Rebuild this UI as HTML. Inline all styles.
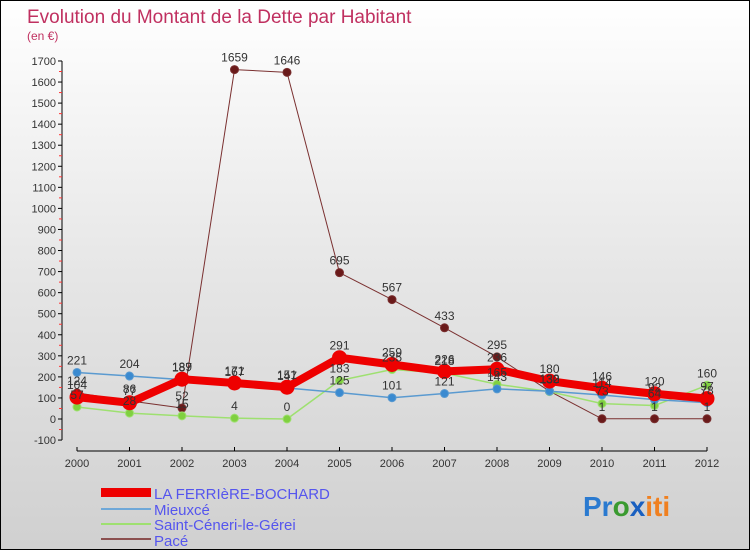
<!DOCTYPE html>
<html><head><meta charset="utf-8"><style>
body{margin:0;}
#wrap{width:748px;height:548px;border:1px solid #000;position:relative;overflow:hidden;background:linear-gradient(#fff 0%,#e6e6e6 50%,#d0d0d0 100%);font-family:"Liberation Sans",sans-serif;}
svg text{font-family:"Liberation Sans",sans-serif;}
</style></head><body>
<div id="wrap">
<svg id="chart" width="748" height="548">
<text x="26" y="22" font-size="19" fill="#c03060">Evolution du Montant de la Dette par Habitant</text>
<text x="26" y="39" font-size="12" fill="#c03060">(en €)</text>
<g id="axes"></g><g id="series"></g><g id="labels"></g>
<g>
<rect x="100" y="487" width="50" height="9" fill="#e00"/>
<text x="153" y="498" font-size="15" fill="#5555ee">LA FERRIèRE-BOCHARD</text>
<line x1="100" y1="508" x2="150" y2="508" stroke="#6fa8d8" stroke-width="2"/>
<text x="153" y="514" font-size="15" fill="#5555ee">Mieuxcé</text>
<line x1="100" y1="523" x2="150" y2="523" stroke="#9ee070" stroke-width="2"/>
<text x="153" y="529" font-size="15" fill="#5555ee">Saint-Céneri-le-Gérei</text>
<line x1="100" y1="538" x2="150" y2="538" stroke="#8b5050" stroke-width="2"/>
<text x="153" y="545" font-size="15" fill="#5555ee">Pacé</text>
</g>
<g font-size="28" font-weight="bold">
<text x="582" y="515"><tspan fill="#2a7ad0">Pr</tspan><tspan fill="#3a9a30">o</tspan><tspan fill="#1a60c0">x</tspan><tspan fill="#f08020">iti</tspan></text>
</g>
</svg>
</div>
<script>
const years=["2000","2001","2002","2003","2004","2005","2006","2007","2008","2009","2010","2011","2012"];
const yTicks=[-100,0,100,200,300,400,500,600,700,800,900,1000,1100,1200,1300,1400,1500,1600,1700];
const ferriere=[104,77,189,171,151,291,259,226,236,180,146,120,97];
const mieuxce=[221,204,187,167,147,125,101,121,143,132,114,92,78];
const ceneri=[57,28,15,4,0,183,235,218,165,130,73,64,160];
const pace=[124,86,52,1659,1646,695,567,433,295,132,1,1,1];
const NS="http://www.w3.org/2000/svg";
function X(i){return 76+i*52.5;}
function Y(v){return 418-v*0.2106;}
function mk(t,a,p){const e=document.createElementNS(NS,t);for(const k in a)e.setAttribute(k,a[k]);p.appendChild(e);return e;}
const ax=document.getElementById('axes');
const yl=mk('line',{x1:61,y1:Y(1700),x2:61,y2:Y(-100),stroke:'#000'},ax);


yTicks.forEach(v=>{
 mk('line',{x1:57,y1:Y(v),x2:61,y2:Y(v),stroke:'#000'},ax);
 if(v<1700)mk('line',{x1:58,y1:Y(v+50),x2:61,y2:Y(v+50),stroke:'#f33'},ax);
 const t=mk('text',{x:55,y:Y(v)+4,'font-size':11,fill:'#333','text-anchor':'end'},ax);t.textContent=v;
 
 
});
const xl=mk('line',{x1:X(0),y1:450,x2:X(12),y2:450,stroke:'#000'},ax);


years.forEach((y,i)=>{
 mk('line',{x1:X(i),y1:446,x2:X(i),y2:450,stroke:'#000'},ax);
 const t=mk('text',{x:X(i),y:466,'font-size':11,fill:'#333','text-anchor':'middle'},ax);t.textContent=y;
 
 
});
const sg=document.getElementById('series'),lg=document.getElementById('labels');
function draw(arr,name,color,w,r,dot){
 const pl=mk('polyline',{points:arr.map((v,i)=>X(i)+','+Y(v)).join(' '),fill:'none',stroke:color,'stroke-width':w,'stroke-linejoin':'round'},sg);
 
 
 arr.forEach((v,i)=>{
  const c=mk('circle',{cx:X(i),cy:Y(v),r:r,fill:dot,stroke:color,'stroke-width':1},sg);
  
  
  const t=mk('text',{x:X(i),y:Y(v)-8,'font-size':12,fill:'#333','text-anchor':'middle'},lg);t.textContent=v;
  
  
 });
}
draw(pace,'pace','#7a3030',1,4,'#6a1a1a');
draw(ceneri,'saint-ceneri','#9ee070',1.5,4,'#80d040');
draw(mieuxce,'mieuxce','#5a9ad0',1.5,4,'#3a8ad0');
draw(ferriere,'ferriere','#ee0000',8,7,'#ee0000');
draw(mieuxce.map(()=>null).length?[]:[], 'x','#000',0,0,'#000');
</script>
</body></html>
